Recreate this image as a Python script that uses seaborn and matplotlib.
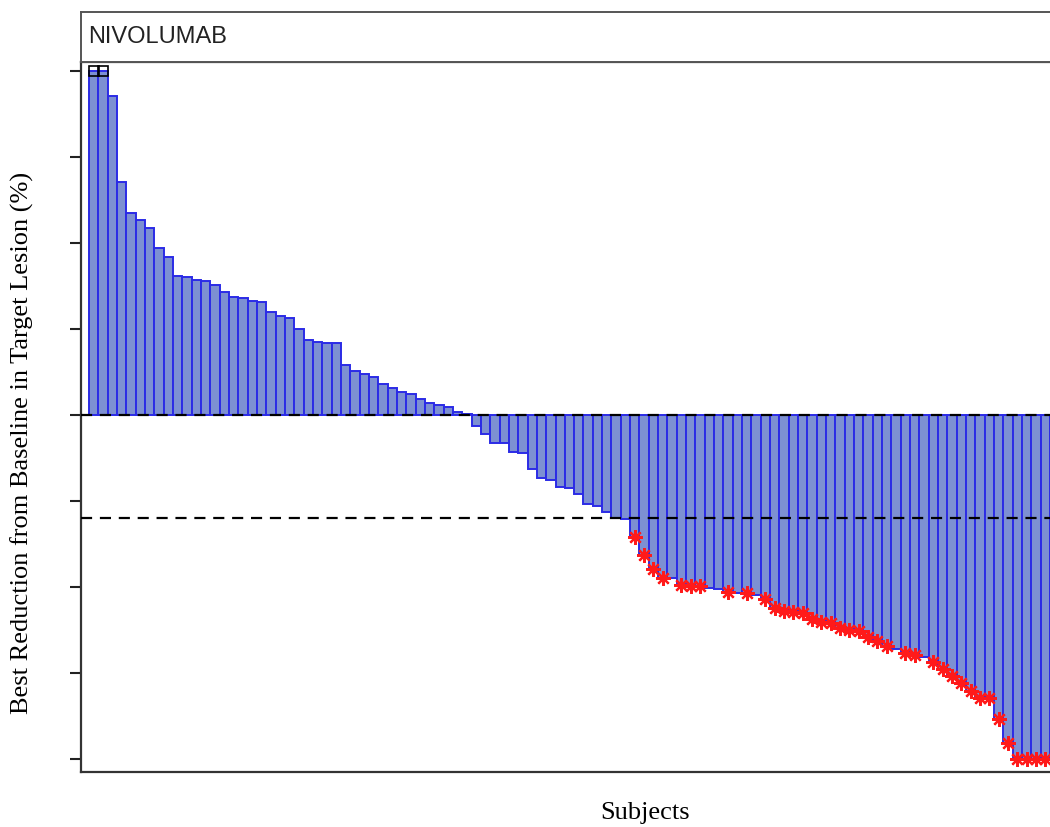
import matplotlib
matplotlib.use("Agg")
import matplotlib.pyplot as plt
import seaborn as sns
import pandas as pd
import numpy as np

# ---- data ----
panel_title = "NIVOLUMAB"
x_label = "Subjects"
y_label = "Best Reduction from Baseline in Target Lesion (%)"
y_ticks = [-100, -75, -50, -25, 0, 25, 50, 75, 100]
response_threshold = -30

best_change = [
    100, 100, 92.8, 67.7, 58.6, 56.7, 54.2, 48.4, 45.8, 40.3,
    40.0, 39.2, 39.0, 37.7, 35.6, 34.2, 33.9, 33.0, 32.7, 29.8,
    28.9, 28.3, 25.1, 21.8, 21.3, 20.8, 20.8, 14.6, 12.7, 11.8,
    11.1, 9.1, 7.9, 6.7, 6.2, 4.7, 3.5, 2.8, 2.3, 0.8,
    0.4, -3.1, -5.6, -8.3, -8.3, -10.7, -11.2, -15.8, -18.4, -18.9,
    -20.9, -21.3, -23.1, -25.9, -26.4, -28.2, -30.0, -30.2, -35.6, -40.8,
    -44.9, -47.3, -47.5, -49.3, -49.6, -49.7, -50.3, -50.5, -51.6, -51.7,
    -51.9, -52.4, -53.4, -56.0, -56.9, -57.4, -57.7, -59.2, -60.1, -60.6,
    -61.8, -62.4, -62.7, -64.7, -65.6, -67.1, -68.0, -69.1, -69.7, -70.5,
    -71.7, -73.8, -75.8, -77.8, -80.2, -82.2, -82.3, -88.3, -95.3, -100,
    -100, -100, -100,
]
# 1 = value exceeds axis range (square marker)
out_of_range = [1, 1] + [0] * 101
# 1 = confirmed response (red asterisk)
responder = (
    [0] * 58
    + [1, 1, 1, 1, 0, 1, 1, 1, 0, 0, 1, 0, 1, 0]
    + [1] * 14
    + [0, 1, 1, 0]
    + [1] * 13
)

n = len(best_change)
subjects = [f"S{i+1:03d}" for i in range(n)]
df = pd.DataFrame({"subject": subjects, "change": best_change,
                   "oor": out_of_range, "resp": responder})

# ---- figure ----
sns.set_style("white")
plt.rcParams["font.family"] = ["Liberation Serif", "DejaVu Serif"]

W, H = 1050, 827
fig = plt.figure(figsize=(W / 100, H / 100), dpi=100)

def fx(px):
    return px / W

def fy(py):
    return 1 - py / H

ax_left, ax_right, ax_top, ax_bottom = 81, 1058, 62, 772
ax = fig.add_axes([fx(ax_left), fy(ax_bottom), fx(ax_right - ax_left),
                   (ax_bottom - ax_top) / H])

sns.barplot(data=df, x="subject", y="change", order=subjects, width=1.0,
            color="#7d90d2", saturation=1, edgecolor="#2b2be6",
            linewidth=1.4, ax=ax)

pos = np.arange(n)
# response asterisks
rmask = df["resp"].values == 1
ax.plot(pos[rmask], df["change"].values[rmask], linestyle="none",
        marker=(8, 2, 0), markersize=10.5, markeredgewidth=1.6,
        color="#ff1a1a", zorder=5)
# out-of-range squares
omask = df["oor"].values == 1
ax.plot(pos[omask], df["change"].values[omask], linestyle="none",
        marker="s", markersize=7.5, markerfacecolor="none",
        markeredgecolor="black", markeredgewidth=1.2, zorder=6)

# reference lines
ax.axhline(0, color="black", linestyle=(0, (5, 3.5)), linewidth=1.6, zorder=4)
ax.axhline(response_threshold, color="black", linestyle=(0, (5, 3.5)),
           linewidth=1.6, zorder=4)

bar_px = 9.33
pad = (89 - ax_left) / bar_px
ax.set_xlim(-0.5 - pad, n - 0.5 + pad)
ax.set_ylim(-103.8, 102.6)
ax.set_yticks(y_ticks)
ax.set_yticklabels([])
ax.set_xticks([])
ax.tick_params(axis="y", direction="out", length=8, width=1.5,
               color="#222222", left=True)
for sp in ax.spines.values():
    sp.set_color("#333333")
    sp.set_linewidth(1.6)

ax.set_xlabel(x_label, fontsize=19, color="black")
ax.set_ylabel(y_label, fontsize=19, color="black")
ax.xaxis.set_label_coords((645 - ax_left) / (ax_right - ax_left),
                          (ax_bottom - 813) / (ax_bottom - ax_top))
ax.xaxis.label.set_va("center")
ax.yaxis.set_label_coords((22 - ax_left) / (ax_right - ax_left),
                          (ax_bottom - 443) / (ax_bottom - ax_top))
ax.yaxis.label.set_va("center")

# title strip
tax = fig.add_axes([fx(ax_left), fy(ax_top), fx(ax_right - ax_left),
                    (ax_top - 12) / H])
tax.set_xticks([])
tax.set_yticks([])
for sp in tax.spines.values():
    sp.set_color("#555555")
    sp.set_linewidth(1.4)
tax.text((88 - ax_left) / (ax_right - ax_left), 0.5, panel_title,
         transform=tax.transAxes, ha="left", va="center", fontsize=17,
         family=["Liberation Sans", "DejaVu Sans"], color="#222222")

fig.savefig("out.png", dpi=100)
